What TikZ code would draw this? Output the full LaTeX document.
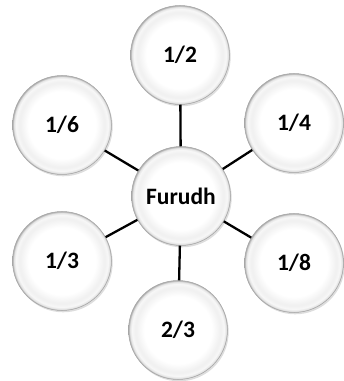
\documentclass[tikz,border=0pt]{standalone}
\usepackage{fontspec}
\setmainfont{Carlito}
\usetikzlibrary{shadows}
\pgfdeclareradialshading{plate}{\pgfpoint{0bp}{0bp}}{color(0bp)=(white); color(17bp)=(white); color(21.5bp)=(black!6); color(23.3bp)=(white!97!black); color(24.4bp)=(black!12); color(25bp)=(black!35); color(50bp)=(black!35)}
\tikzset{
  plate/.style={circle, minimum size=99pt, inner sep=0pt, shading=plate, draw=black!35, line width=0.5pt,
    drop shadow={shadow xshift=1.2pt, shadow yshift=-1.8pt, opacity=0.22, fill=black!60},
    font=\bfseries\fontsize{23.5}{28}\selectfont},
  link/.style={line width=2.3pt, black}
}
\begin{document}
\begin{tikzpicture}[x=1pt,y=1pt]
\useasboundingbox (0,0) rectangle (344,381);
\node[plate] (F) at (181,185) {Furudh};
\node[plate] (h) at (180,326) {1/2};
\node[plate] (q) at (294,258) {1/4};
\node[plate] (e) at (294,118) {1/8};
\node[plate] (t) at (178,51) {2/3};
\node[plate] (th) at (62,120) {1/3};
\node[plate] (s) at (62,256) {1/6};
\foreach \n in {h,q,e,t,th,s} {\draw[link] (F) -- (\n);}
\end{tikzpicture}
\end{document}
